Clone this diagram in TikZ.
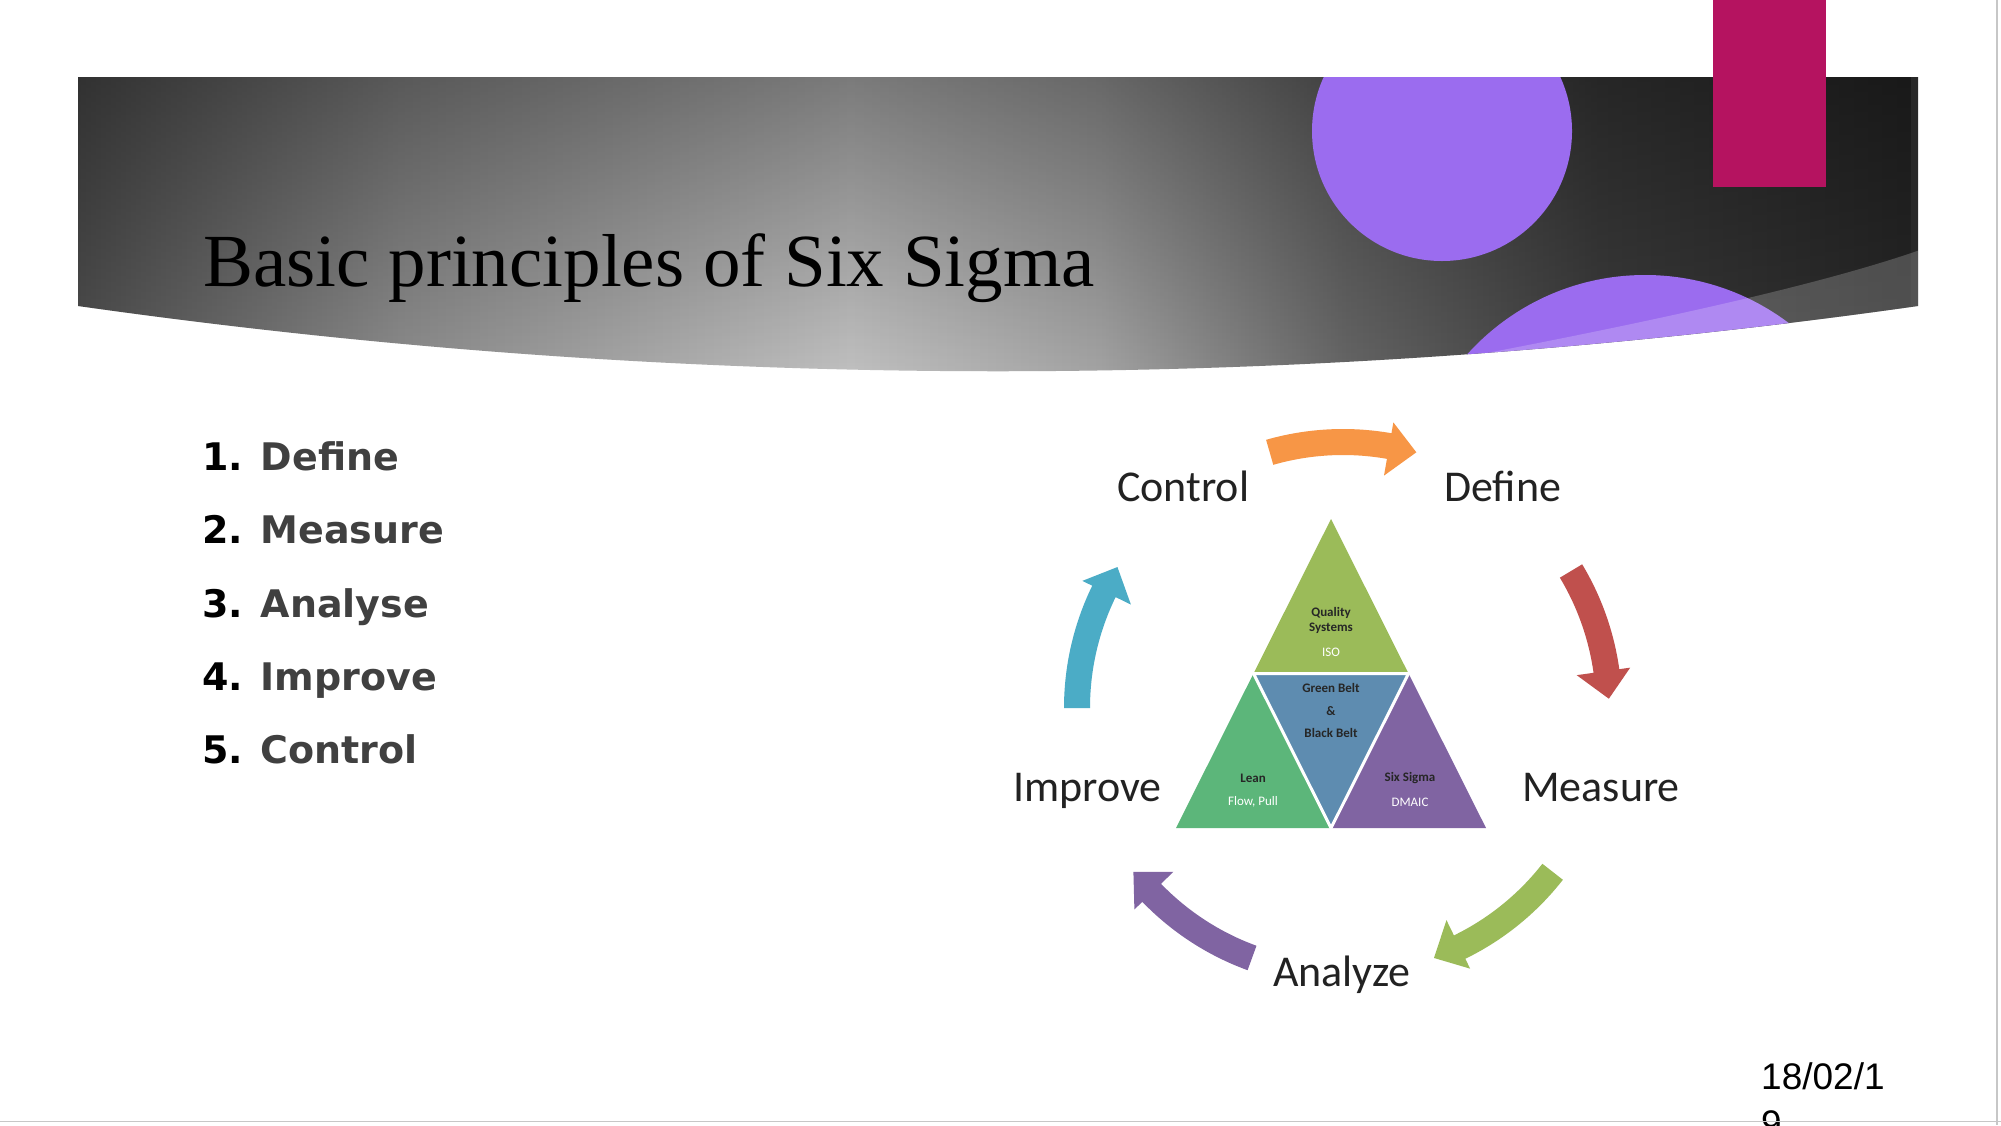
\documentclass[tikz,border=0pt]{standalone}
\usepackage{fontspec}
\setmainfont{Liberation Serif}
\newfontfamily\listfont{DejaVu Sans}
\newfontfamily\cyclefont{Carlito}
\newfontfamily\datefont{Liberation Sans}
\usetikzlibrary{calc,fadings}

\definecolor{bandA}{RGB}{80,80,80}
\definecolor{bandB}{RGB}{144,144,144}
\definecolor{bandC}{RGB}{198,198,198}
\definecolor{bandD}{RGB}{168,168,168}
\definecolor{bandE}{RGB}{104,104,104}
\definecolor{bandF}{RGB}{62,62,62}
\definecolor{bandG}{RGB}{40,40,40}
\definecolor{magentabar}{RGB}{181,19,96}
\definecolor{circpurple}{RGB}{155,108,239}
\definecolor{arrorange}{RGB}{247,150,70}
\definecolor{arrred}{RGB}{192,80,77}
\definecolor{arrgreen}{RGB}{155,187,89}
\definecolor{arrpurple}{RGB}{128,100,162}
\definecolor{arrblue}{RGB}{75,172,198}
\definecolor{trigreen}{RGB}{92,182,122}
\definecolor{triblue}{RGB}{94,140,176}
\definecolor{listgray}{RGB}{64,64,64}
\definecolor{labelgray}{RGB}{34,34,34}

\pgfdeclarehorizontalshading{bandshade}{100bp}{color(0bp)=(bandA); color(25bp)=(bandA); color(33.75bp)=(bandB); color(46bp)=(bandC); color(52.75bp)=(bandD); color(59.5bp)=(bandE); color(66.35bp)=(bandF); color(75bp)=(bandG); color(100bp)=(bandG)}
\tikzfading[name=bandtop, top color=transparent!62, bottom color=transparent!100]

\begin{document}
\begin{tikzpicture}[
    x=1pt, y=-1pt,
    titletext/.style={anchor=base west, inner sep=0pt, font=\fontsize{75}{90}\selectfont, text=black},
    item/.style={anchor=base west, inner sep=0pt, font=\listfont\bfseries\fontsize{38}{46}\selectfont, text=listgray},
    cyclelbl/.style={anchor=base west, inner sep=0pt, font=\cyclefont\fontsize{44}{52}\selectfont, text=labelgray},
    tlbl/.style={inner sep=0pt, align=center, font=\cyclefont\bfseries\fontsize{13}{15}\selectfont, text=black!85},
    tsub/.style={inner sep=0pt, font=\cyclefont\fontsize{13}{15}\selectfont, text=white},
    tri/.style={draw=white, line width=3pt, line join=miter},
    datetext/.style={anchor=base west, inner sep=0pt, font=\datefont\fontsize{37}{47}\selectfont, text=black},
]
\useasboundingbox (0,0) rectangle (2001,1125);
\fill[white] (0,0) rectangle (2001,1125);

% header band
\shade[shading=bandshade] (78,77) -- (1918,77) -- (1918,306) .. controls (1305,393) and (691,393) .. (78,306) -- cycle;
\begin{scope}
\clip (78,77) -- (1918,77) -- (1918,306) .. controls (1305,393) and (691,393) .. (78,306) -- cycle;
\fill[black, path fading=bandtop] (78,77) rectangle (1918,400);
\fill[circpurple] (1442,131) circle[radius=130];
\fill[circpurple] (1645,514) circle[radius=239];
\fill[white, opacity=0.2] (1466,357) .. controls (1650,322) and (1820,285) .. (1920,250) -- (1920,420) -- (1440,420) -- cycle;
\end{scope}
\fill[magentabar] (1713,0) rectangle (1826,187);
\node[titletext] (title) at (203,286) {Basic principles of Six Sigma};

% list
\node[item] (item1) at (202,470) {\textcolor{black}{1.} Define};
\node[item] (item2) at (202,543) {\textcolor{black}{2.} Measure};
\node[item] (item3) at (202,617) {\textcolor{black}{3.} Analyse};
\node[item] (item4) at (202,690) {\textcolor{black}{4.} Improve};
\node[item] (item5) at (202,763) {\textcolor{black}{5.} Control};

% cycle arrows
\coordinate (cyc) at (1343,708);
\fill[arrorange] ($(cyc)+(-106:279)$) arc[start angle=-106, end angle=-80, radius=279] -- ($(cyc)+(-80:290)$) -- ($(cyc)+(-74:266)$) -- ($(cyc)+(-80:236)$) -- ($(cyc)+(-80:253)$) arc[start angle=-80, end angle=-106, radius=253] -- cycle;
\fill[arrred] ($(cyc)+(-31:279)$) arc[start angle=-31, end angle=-8, radius=279] -- ($(cyc)+(-8:290)$) -- ($(cyc)+(-2:266)$) -- ($(cyc)+(-8:236)$) -- ($(cyc)+(-8:253)$) arc[start angle=-8, end angle=-31, radius=253] -- cycle;
\fill[arrgreen] ($(cyc)+(38:279)$) arc[start angle=38, end angle=64, radius=279] -- ($(cyc)+(64:290)$) -- ($(cyc)+(70:266)$) -- ($(cyc)+(64:236)$) -- ($(cyc)+(64:253)$) arc[start angle=64, end angle=38, radius=253] -- cycle;
\fill[arrpurple] ($(cyc)+(110:279)$) arc[start angle=110, end angle=136, radius=279] -- ($(cyc)+(136:290)$) -- ($(cyc)+(142:266)$) -- ($(cyc)+(136:236)$) -- ($(cyc)+(136:253)$) arc[start angle=136, end angle=110, radius=253] -- cycle;
\fill[arrblue] ($(cyc)+(-180:279)$) arc[start angle=-180, end angle=-154, radius=279] -- ($(cyc)+(-154:290)$) -- ($(cyc)+(-148:266)$) -- ($(cyc)+(-154:236)$) -- ($(cyc)+(-154:253)$) arc[start angle=-154, end angle=-180, radius=253] -- cycle;

% cycle labels
\node[cyclelbl] (control) at (1117,501) {Control};
\node[cyclelbl] (define) at (1444,501) {Define};
\node[cyclelbl] (measure) at (1522,801) {Measure};
\node[cyclelbl] (improve) at (1013,801) {Improve};
\node[cyclelbl] (analyze) at (1273,986) {Analyze};

% triangle
\coordinate (apex) at (1331,519);
\coordinate (bl) at (1176,828);
\coordinate (br) at (1486,828);
\coordinate (ml) at (1253.5,673.5);
\coordinate (mr) at (1408.5,673.5);
\coordinate (mb) at (1331,828);
\fill[arrgreen] (apex) -- (ml) -- (mr) -- cycle;
\fill[trigreen] (ml) -- (bl) -- (mb) -- cycle;
\fill[triblue] (ml) -- (mr) -- (mb) -- cycle;
\fill[arrpurple] (mr) -- (mb) -- (br) -- cycle;
\draw[tri] (ml) -- (mr) -- (mb) -- cycle;
\node[tlbl] (qs) at (1331,620.5) {Quality\\Systems};
\node[tsub] (iso) at (1331,652) {ISO};
\node[tlbl, font=\cyclefont\bfseries\fontsize{13}{22.5}\selectfont] (gb) at (1331,710.5) {Green Belt\\\&\\Black Belt};
\node[tlbl] (lean) at (1253,778) {Lean};
\node[tsub] (flow) at (1253,802) {Flow, Pull};
\node[tlbl] (six) at (1410,778) {Six Sigma};
\node[tsub] (dmaic) at (1410,802) {DMAIC};

% date and slide edge
\node[datetext] (date) at (1761,1089) {18/02/1};
\node[datetext] (date2) at (1761,1136) {9};
\draw[black!22, line width=1.5pt] (1997,0) -- (1997,1125);
\draw[black!22, line width=1.5pt] (0,1121.5) -- (2001,1121.5);
\end{tikzpicture}
\end{document}
